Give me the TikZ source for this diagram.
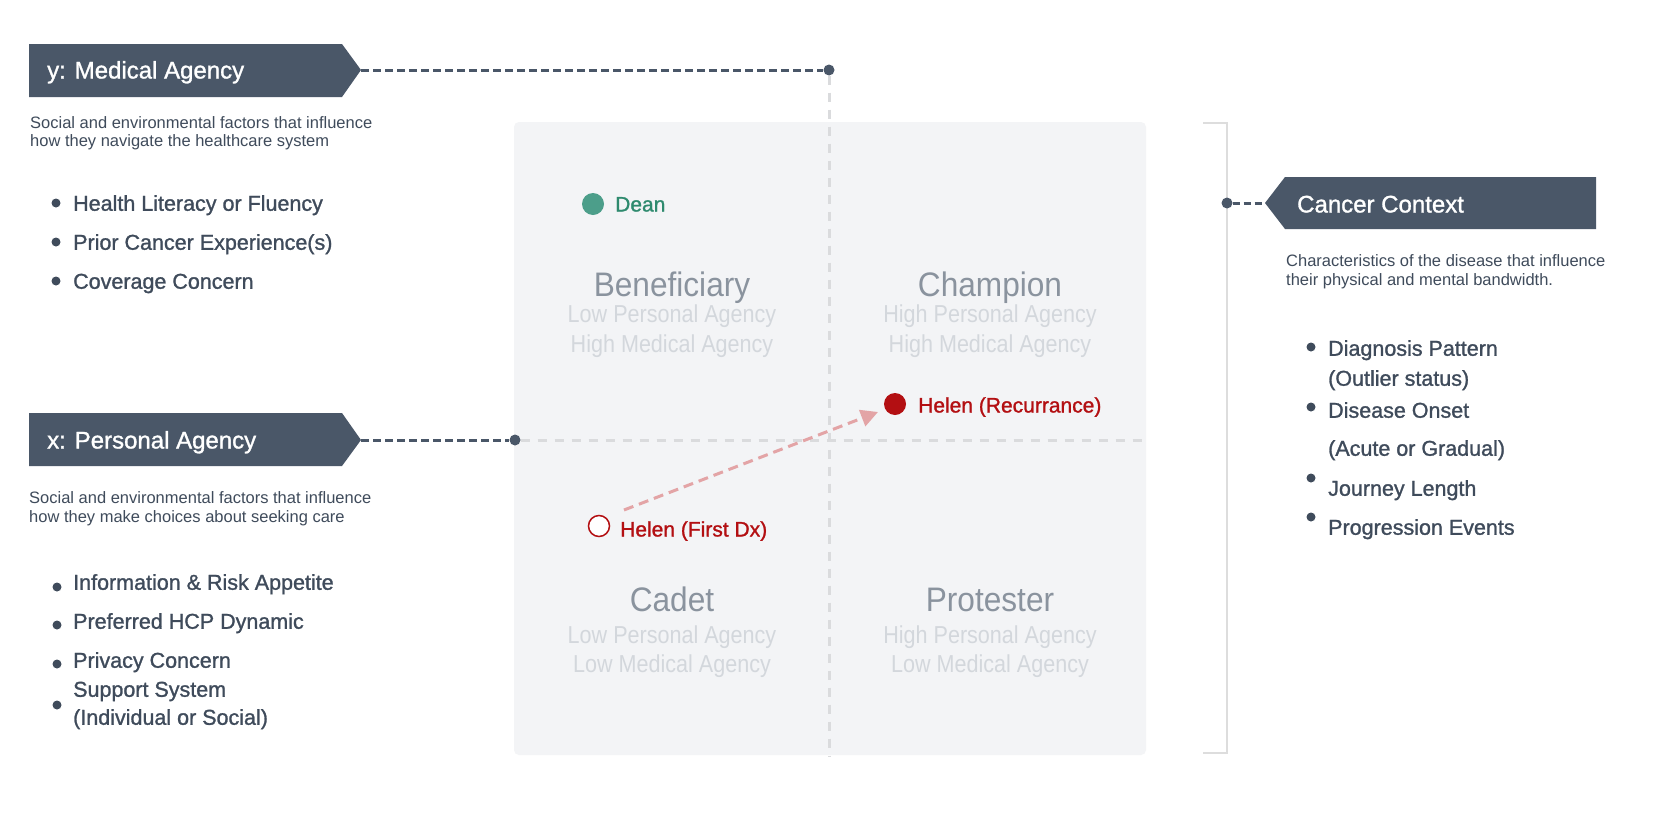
\documentclass[tikz,border=0pt]{standalone}
\usepackage{fontspec}
\setmainfont{Liberation Sans}
\newfontfamily\condf[FakeStretch=0.88]{Liberation Sans}
\newfontfamily\condt[FakeStretch=0.93]{Liberation Sans}
\newfontfamily\medf[FakeBold=1.2]{Liberation Sans}
\usetikzlibrary{arrows.meta,calc}
\definecolor{slate}{HTML}{4A5768}
\definecolor{ink}{HTML}{3F4B5B}
\definecolor{panel}{HTML}{F3F4F6}
\definecolor{gridc}{HTML}{DADBDD}
\definecolor{qgrey}{HTML}{8A939E}
\definecolor{qlight}{HTML}{D3D7DC}
\definecolor{deanc}{HTML}{4C9E8A}
\definecolor{deantxt}{HTML}{2E8A6E}
\definecolor{helenc}{HTML}{B30F12}
\definecolor{arrowc}{HTML}{E3A4A6}
\definecolor{bracketc}{HTML}{DDDDDD}
\tikzset{
  tagshape/.style={fill=slate},
  tagtxt/.style={font=\medf\fontsize{24}{28}\selectfont, text=white, anchor=west, inner sep=0pt, text height=17pt, text depth=0pt},
  desc/.style={font=\fontsize{16.5}{19}\selectfont, text=ink, anchor=west, inner sep=0pt, text height=12pt, text depth=0pt},
  item/.style={font=\medf\fontsize{21.5}{25}\selectfont, text=ink, anchor=west, inner sep=0pt, text height=15.5pt, text depth=0pt},
  bul/.style={circle, fill=ink, inner sep=0pt, minimum size=9pt},
  enddot/.style={circle, fill=slate, inner sep=0pt, minimum size=11pt},
  dline/.style={draw=slate, line width=3pt, dash pattern=on 8pt off 4pt},
  gridline/.style={draw=gridc, line width=3pt, dash pattern=on 9pt off 8pt},
  qtitle/.style={font=\condt\fontsize{34}{38}\selectfont, text=qgrey, inner sep=0pt, text height=24.3pt, text depth=0pt},
  qsub/.style={font=\condf\fontsize{24.5}{28}\selectfont, text=qlight, inner sep=0pt, text height=17.5pt, text depth=0pt},
  who/.style={font=\medf\fontsize{21}{25}\selectfont, anchor=west, inner sep=0pt, text height=15pt, text depth=0pt},
  pdot/.style={circle, inner sep=0pt, minimum size=22pt},
  arr/.style={draw=arrowc, line width=3pt, dash pattern=on 10pt off 6pt, -{Triangle[length=17pt,width=17pt,fill=arrowc]}}
}
\begin{document}
\begin{tikzpicture}[x=1pt,y=-1pt]
\useasboundingbox (0,0) rectangle (1658,833);
\fill[white] (0,0) rectangle (1658,833);

% panel
\fill[panel, rounded corners=5pt] (514,122) rectangle (1146,755);

% ---------- y: Medical Agency ----------
\fill[tagshape] (29,44) -- (342,44) -- (361,70) -- (342,97) -- (29,97) -- cycle;
\coordinate (ytip) at (361,70);
\node[tagtxt] (ytag) at (47,70) {y: Medical Agency};
\node[enddot] (ydot) at (829,70) {};
\coordinate (vbot) at (829,757);
\draw[gridline] (ydot) -- (vbot);
\draw[dline] (ytip) -- (ydot);
\node[desc] (yd1) at (30,122) {Social and environmental factors that influence};
\node[desc] (yd2) at (30,140) {how they navigate the healthcare system};
\node[bul] (yb1) at (56,203) {};
\node[item] (yi1) at (73,203) {Health Literacy or Fluency};
\node[bul] (yb2) at (56,242) {};
\node[item] (yi2) at (73,242) {Prior Cancer Experience(s)};
\node[bul] (yb3) at (56,281) {};
\node[item] (yi3) at (73,281) {Coverage Concern};

% ---------- x: Personal Agency ----------
\fill[tagshape] (29,413) -- (342,413) -- (361,440) -- (342,466) -- (29,466) -- cycle;
\coordinate (xtip) at (361,440);
\node[tagtxt] (xtag) at (47,440) {x: Personal Agency};
\node[enddot] (xdot) at (515,440) {};
\coordinate (hend) at (1146,440);
\draw[gridline] (xdot) -- (hend);
\draw[dline] (xtip) -- (xdot);
\node[desc] (xd1) at (29,497) {Social and environmental factors that influence};
\node[desc] (xd2) at (29,516) {how they make choices about seeking care};
\node[bul] (xb1) at (57,587) {};
\node[item] (xi1) at (73,582) {Information \& Risk Appetite};
\node[bul] (xb2) at (57,625) {};
\node[item] (xi2) at (73,621) {Preferred HCP Dynamic};
\node[bul] (xb3) at (57,664) {};
\node[item] (xi3) at (73,660) {Privacy Concern};
\node[bul] (xb4) at (57,705) {};
\node[item] (xi4) at (73,689) {Support System};
\node[item] (xi5) at (73,717) {(Individual or Social)};

% ---------- Cancer Context ----------
\coordinate (bt) at (1203,123);
\coordinate (bb) at (1203,753);
\draw[bracketc, line width=2.5pt] (bt) -- (1227,123) -- (1227,753) -- (bb);
\node[enddot] (cdot) at (1227,203) {};
\fill[tagshape] (1265,203) -- (1285,177) -- (1596,177) -- (1596,229) -- (1285,229) -- cycle;
\coordinate (ctip) at (1265,203);
\draw[dline, dash pattern=on 7pt off 4pt] (cdot) -- (ctip);
\node[tagtxt] (ctag) at (1297,204) {Cancer Context};
\node[desc] (cd1) at (1286,260) {Characteristics of the disease that influence};
\node[desc] (cd2) at (1286,279) {their physical and mental bandwidth.};
\node[bul] (cb1) at (1311,347) {};
\node[item] (ci1) at (1328,348) {Diagnosis Pattern};
\node[item] (ci2) at (1328,378) {(Outlier status)};
\node[bul] (cb2) at (1311,407) {};
\node[item] (ci3) at (1328,410) {Disease Onset};
\node[item] (ci4) at (1328,448) {(Acute or Gradual)};
\node[bul] (cb3) at (1311,478) {};
\node[item] (ci5) at (1328,488) {Journey Length};
\node[bul] (cb4) at (1311,517) {};
\node[item] (ci6) at (1328,527) {Progression Events};

% ---------- quadrant labels ----------
\node[qtitle] (q1) at (672,284) {Beneficiary};
\node[qsub] (q1a) at (672,314) {Low Personal Agency};
\node[qsub] (q1b) at (672,344) {High Medical Agency};
\node[qtitle] (q2) at (990,284) {Champion};
\node[qsub] (q2a) at (990,314) {High Personal Agency};
\node[qsub] (q2b) at (990,344) {High Medical Agency};
\node[qtitle] (q3) at (672,599) {Cadet};
\node[qsub] (q3a) at (672,635) {Low Personal Agency};
\node[qsub] (q3b) at (672,664) {Low Medical Agency};
\node[qtitle] (q4) at (990,599) {Protester};
\node[qsub] (q4a) at (990,635) {High Personal Agency};
\node[qsub] (q4b) at (990,664) {Low Medical Agency};

% ---------- people ----------
\node[pdot, fill=deanc] (dean) at (593,204) {};
\node[who, text=deantxt] (deanl) at (615,204) {Dean};
\node[pdot, fill=helenc] (hr) at (895,404) {};
\node[who, text=helenc] (hrl) at (918,405) {Helen (Recurrance)};
\node[pdot, minimum size=21pt, draw=helenc, line width=1.5pt, fill=white] (hf) at (599,526) {};
\node[who, text=helenc] (hfl) at (620,529) {Helen (First Dx)};
\draw[arr] ($(hf)+(25,-16)$) -- ($(hr)+(-17,8)$);
\end{tikzpicture}
\end{document}
